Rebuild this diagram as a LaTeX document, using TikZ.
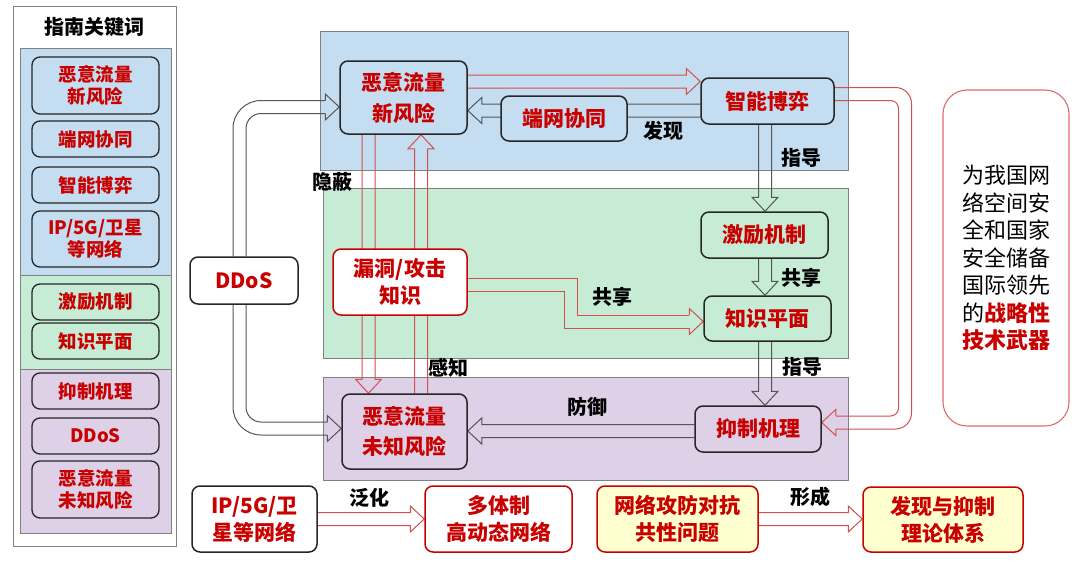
\documentclass[tikz,border=0pt]{standalone}
\usepackage{fontspec}
\setmainfont{Noto Sans CJK SC}
\usetikzlibrary{calc}
\definecolor{tred}{HTML}{C80000}
\definecolor{redline}{HTML}{D25050}
\definecolor{grayline}{HTML}{555555}
\definecolor{pblue}{HTML}{C5DDF0}
\definecolor{pgreen}{HTML}{C6ECD6}
\definecolor{ppurple}{HTML}{DDD0E7}
\definecolor{pyellow}{HTML}{FFFFCF}
\definecolor{nodeb}{HTML}{262626}
\definecolor{panelb}{HTML}{808080}
\definecolor{boxred}{HTML}{E06A6A}
\pgfdeclarelayer{bg}\pgfdeclarelayer{arr}\pgfsetlayers{bg,arr,main}
\def\bh{6.5pt}\def\bH{13pt}\def\bl{14pt}
\newcommand\hblock[3][]{\begin{pgfonlayer}{arr}\draw[#1] let \p1=(#2), \p2=(#3), \p3=($(#3)!\bl!(#2)$) in (\x1,\y1+\bh) -- (\x3,\y1+\bh) -- (\x3,\y1+\bH) -- (\x2,\y1) -- (\x3,\y1-\bH) -- (\x3,\y1-\bh) -- (\x1,\y1-\bh);\end{pgfonlayer}}
\newcommand\vblock[3][]{\begin{pgfonlayer}{arr}\draw[#1] let \p1=(#2), \p2=(#3), \p3=($(#3)!\bl!(#2)$) in (\x1+\bh,\y1) -- (\x1+\bh,\y3) -- (\x1+\bH,\y3) -- (\x1,\y2) -- (\x1-\bH,\y3) -- (\x1-\bh,\y3) -- (\x1-\bh,\y1);\end{pgfonlayer}}
\newcommand\rhead[2][]{\draw[#1] ($(#2)+(-14,-6.5)$) -- ($(#2)+(-14,-13)$) -- (#2) -- ($(#2)+(-14,13)$) -- ($(#2)+(-14,6.5)$);}
\newcommand\lhead[2][]{\draw[#1] ($(#2)+(14,-6.5)$) -- ($(#2)+(14,-13)$) -- (#2) -- ($(#2)+(14,13)$) -- ($(#2)+(14,6.5)$);}
\tikzset{
  every node/.style={inner sep=0pt},
  box/.style 2 args={minimum width=#1, minimum height=#2},
  basenode/.style={rounded corners=8pt, align=center, text=tred},
  snode/.style={basenode, draw=nodeb, line width=1.3pt, font=\bfseries\fontsize{18.5}{22}\selectfont},
  mnode/.style={basenode, draw=nodeb, line width=1.5pt, font=\bfseries\fontsize{21}{31}\selectfont},
  rnode/.style={basenode, draw=tred, line width=1.5pt, fill=white, font=\bfseries\fontsize{21}{27}\selectfont},
  ynode/.style={rnode, fill=pyellow},
  lbl/.style={font=\bfseries\fontsize{20}{24}\selectfont, text=black},
  panel/.style={draw=panelb, line width=0.9pt},
  redarrow/.style={draw=redline, line width=1pt, line join=miter},
  grayarrow/.style={draw=grayline, line width=1pt, line join=miter},
}
\begin{document}
\begin{tikzpicture}[x=1pt,y=-1pt]
\useasboundingbox (0,0) rectangle (1080,562);
\begin{pgfonlayer}{bg}
\fill[white] (0,0) rectangle (1080,562);
% sidebar
\draw[panel, fill=white] (13,6) rectangle (176,546);
\draw[panel, fill=pblue] (20,48) rectangle (171,275);
\draw[panel, fill=pgreen] (20,275) rectangle (171,369);
\draw[panel, fill=ppurple] (20,369) rectangle (171,533);
% main panels
\draw[panel, fill=pblue] (320,31) rectangle (848,170);
\draw[panel, fill=pgreen] (323,188) rectangle (848,358);
\draw[panel, fill=ppurple] (323,377) rectangle (848,480);
\end{pgfonlayer}

% sidebar nodes
\node[font=\bfseries\fontsize{20}{24}\selectfont] (title) at (95,27) {指南关键词};
\node[snode, fill=pblue, box={127pt}{57pt}] (s1) at (95.5,85.5) {恶意流量\\新风险};
\node[snode, fill=pblue, box={127pt}{36pt}] (s2) at (95.5,139) {端网协同};
\node[snode, fill=pblue, box={127pt}{36pt}] (s3) at (95.5,185) {智能博弈};
\node[snode, fill=pblue, box={127pt}{56pt}] (s4) at (95.5,239) {IP/5G/卫星\\等网络};
\node[snode, fill=pgreen, box={127pt}{36pt}] (s5) at (95.5,302) {激励机制};
\node[snode, fill=pgreen, box={127pt}{36pt}] (s6) at (95.5,341) {知识平面};
\node[snode, fill=ppurple, box={127pt}{36pt}] (s7) at (95.5,391) {抑制机理};
\node[snode, fill=ppurple, box={127pt}{36pt}] (s8) at (95.5,436) {DDoS};
\node[snode, fill=ppurple, box={127pt}{57pt}] (s9) at (95.5,489.5) {恶意流量\\未知风险};

% main nodes
\node[mnode, fill=pblue, box={127pt}{73pt}] (n1) at (403.5,97.5) {恶意流量\\新风险};
\node[mnode, fill=pblue, box={126pt}{45pt}] (n2) at (564,118.5) {端网协同};
\node[mnode, fill=pblue, box={133pt}{46pt}] (n3) at (767.5,101) {智能博弈};
\node[mnode, fill=pgreen, box={127pt}{46pt}] (n4) at (764.5,235) {激励机制};
\node[mnode, fill=pgreen, box={127pt}{45pt}] (n5) at (767.5,318.5) {知识平面};
\node[mnode, fill=ppurple, box={126pt}{46pt}] (n6) at (758,429) {抑制机理};
\node[mnode, fill=ppurple, box={125pt}{75pt}, font=\bfseries\fontsize{21}{30}\selectfont] (n7) at (404.5,431.5) {恶意流量\\未知风险};
\node[rnode, box={134pt}{66pt}] (n8) at (400,282) {漏洞/攻击\\知识};
\node[mnode, fill=white, box={108pt}{47pt}] (n9) at (244,280.5) {DDoS};

% bottom row
\node[mnode, fill=white, box={125pt}{66pt}, font=\bfseries\fontsize{21}{27}\selectfont] (b1) at (254.5,519) {IP/5G/卫\\星等网络};
\node[rnode, box={147pt}{66pt}] (b2) at (498.5,519) {多体制\\高动态网络};
\node[ynode, box={161pt}{66pt}] (b3) at (677.5,519) {网络攻防对抗\\共性问题};
\node[ynode, box={160pt}{65pt}] (b4) at (943,519.5) {发现与抑制\\理论体系};

% right box
\node[draw=boxred, line width=1.1pt, fill=white, rounded corners=24pt, box={126pt}{336pt}, align=center, font=\fontsize{22}{27.5}\selectfont] (r) at (1006,258)
  {为我国网\\络空间安\\全和国家\\安全储备\\国际领先\\的{\color{tred}\bfseries 战略性}\\{\color{tred}\bfseries 技术武器}};

% labels
\node[lbl] (l1) at (663,131) {发现};
\node[lbl] (l2) at (801,158) {指导};
\node[lbl] (l3) at (332,182) {隐蔽};
\node[lbl] (l4) at (612,297) {共享};
\node[lbl] (l5) at (448,368) {感知};
\node[lbl] (l6) at (801,278) {共享};
\node[lbl] (l7) at (802,367) {指导};
\node[lbl] (l8) at (587,407) {防御};
\node[lbl] (l9) at (369,498) {泛化};
\node[lbl] (l10) at (810,497) {形成};

% helper coordinates
\coordinate (a1) at ($(n1.east)+(0,-16)$);
\coordinate (a2) at ($(n3.west)+(0,9.5)$);
\coordinate (gx) at (765,0);
\coordinate (rd) at (368.5,0);
\coordinate (ru) at (421,0);
\coordinate (a3) at ($(n6.west)+(0,2)$);

% straight block arrows
\hblock[redarrow]{a1}{n3.west |- a1}
\hblock[grayarrow]{a2}{n1.east |- a2}
\vblock[grayarrow]{n3.south -| gx}{n4.north -| gx}
\vblock[grayarrow]{n4.south -| gx}{n5.north -| gx}
\vblock[grayarrow]{n5.south -| gx}{n6.north -| gx}
\vblock[redarrow]{n1.south -| rd}{n7.north -| rd}
\vblock[redarrow]{n7.north -| ru}{n1.south -| ru}
\hblock[grayarrow]{a3}{n7.east |- a3}
\hblock[redarrow]{b1.east}{b2.west |- b1.east}
\hblock[redarrow]{b3.east}{b4.west |- b3.east}

% bent block arrows
\coordinate (K1) at ($(n8.east)+(0,2.5)$);
\coordinate (K2) at ($(n5.west)+(0,3)$);
\coordinate (L1) at ($(n3.east)+(0,-7)$);
\coordinate (L2) at ($(n6.east)+(0,-6.5)$);
\coordinate (T1) at ($(n1.west)+(0,9.5)$);
\coordinate (T2) at ($(n7.west)+(0,-3)$);
\coordinate (dL) at (233,0);
\coordinate (dR) at (246,0);
\begin{pgfonlayer}{arr}
% knowledge -> knowledge plane
\draw[redarrow] ($(K1)+(0,-6.5)$) -| (577,315) -- ($(K2)+(-14,-6.5)$);
\draw[redarrow] ($(K1)+(0,6.5)$) -| (564,328) -- ($(K2)+(-14,6.5)$);
\rhead[redarrow]{K2}
% game -> suppression loop
\draw[redarrow, rounded corners=16pt] ($(L1)+(0,-6.5)$) -| (911.5,429) -- ($(L2)+(14,6.5)$);
\draw[redarrow, rounded corners=8pt] ($(L1)+(0,6.5)$) -| (898.5,416) -- ($(L2)+(14,-6.5)$);
\lhead[redarrow]{L2}
% DDoS arrows
\draw[grayarrow, rounded corners=28pt] (n9.north -| dL) |- ($(T1)+(-14,-6.5)$);
\draw[grayarrow, rounded corners=15pt] (n9.north -| dR) |- ($(T1)+(-14,6.5)$);
\rhead[grayarrow]{T1}
\draw[grayarrow, rounded corners=28pt] (n9.south -| dL) |- ($(T2)+(-14,6.5)$);
\draw[grayarrow, rounded corners=15pt] (n9.south -| dR) |- ($(T2)+(-14,-6.5)$);
\rhead[grayarrow]{T2}
\end{pgfonlayer}
\end{tikzpicture}
\end{document}
